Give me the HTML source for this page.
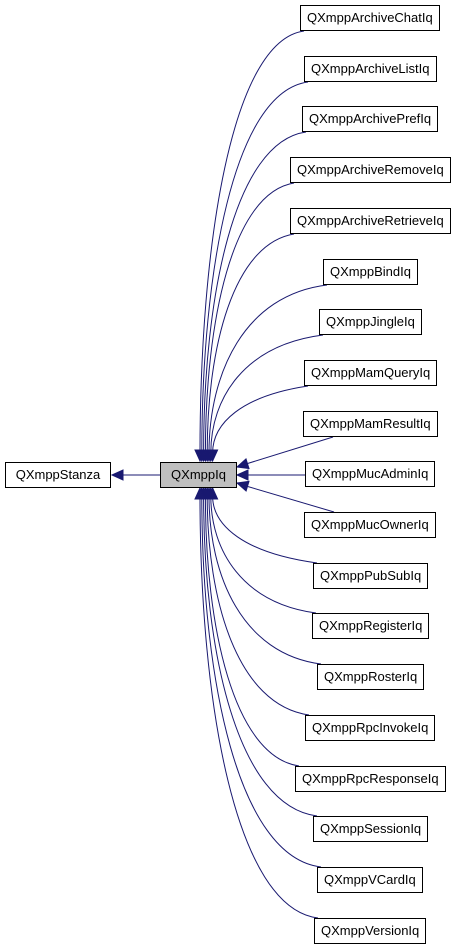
<!DOCTYPE html>
<html><head><meta charset="utf-8"><style>
body{margin:0;background:#fff;width:461px;height:949px;overflow:hidden;position:relative;font-family:"Liberation Sans",sans-serif;font-size:13px}
.b{position:absolute;height:24px;line-height:24px;border:1px solid #000;background:#fff;text-align:center;box-sizing:content-box;white-space:nowrap;padding:0 6px}
svg{position:absolute;left:0;top:0}
</style></head><body>
<svg id="s" width="461" height="949"></svg>
<div class="b" style="left:5px;top:462px;width:92px">QXmppStanza</div>
<div class="b" style="left:160px;top:462px;width:63px;background:#bfbfbf">QXmppIq</div>
<div id="r"></div>
<script>
var names=["QXmppArchiveChatIq","QXmppArchiveListIq","QXmppArchivePrefIq","QXmppArchiveRemoveIq","QXmppArchiveRetrieveIq","QXmppBindIq","QXmppJingleIq","QXmppMamQueryIq","QXmppMamResultIq","QXmppMucAdminIq","QXmppMucOwnerIq","QXmppPubSubIq","QXmppRegisterIq","QXmppRosterIq","QXmppRpcInvokeIq","QXmppRpcResponseIq","QXmppSessionIq","QXmppVCardIq","QXmppVersionIq"];
var r=document.getElementById('r'),s=document.getElementById('s'),svg='';
var C='#191970';
function arrow(x2,y2,x3,y3){var dx=x3-x2,dy=y3-y2,l=Math.hypot(dx,dy);dx/=l;dy/=l;var L=11,W=5;
var bx=x3-dx*L,by=y3-dy*L;return '<polygon points="'+x3+','+y3+' '+(bx-dy*W)+','+(by+dx*W)+' '+(bx+dy*W)+','+(by-dx*W)+'" fill="'+C+'" stroke="'+C+'"/>';}
svg+='<line x1="160" y1="475" x2="122" y2="475" stroke="'+C+'"/>'+arrow(160,475,112,475);
names.forEach(function(n,i){
 var d=document.createElement('div');d.className='b';d.textContent=n;r.appendChild(d);
 var w=d.offsetWidth;var top=Math.round(5+50.7*i);var xl=Math.round(370-w/2);
 d.style.left=xl+'px';d.style.top=top+'px';
 if(i<8){var sx=xl+4,sy=top+26;var ex=200+i*1.8,ey=461;
  var p1x=sx-(sx-ex)*0.7,p1y=sy+10,p2x=ex,p2y=ey-(ey-sy)*0.5;
  svg+='<path d="M'+sx+','+sy+' C'+p1x+','+p1y+' '+p2x+','+p2y+' '+ex+','+(ey-8)+'" fill="none" stroke="'+C+'"/>'+arrow(p2x,p2y,ex,ey);}
 else if(i>10){var sx=xl+4,sy=top;var ex=200+(18-i)*1.8,ey=488;
  var p1x=sx-(sx-ex)*0.7,p1y=sy-10,p2x=ex,p2y=ey+(sy-ey)*0.5;
  svg+='<path d="M'+sx+','+sy+' C'+p1x+','+p1y+' '+p2x+','+p2y+' '+ex+','+(ey+8)+'" fill="none" stroke="'+C+'"/>'+arrow(p2x,p2y,ex,ey);}
 else if(i==9){svg+='<line x1="'+xl+'" y1="475" x2="246" y2="475" stroke="'+C+'"/>'+arrow(xl,475,237,475);}
 else if(i==8){svg+='<line x1="'+(xl+30)+'" y1="'+(top+26)+'" x2="246" y2="464" stroke="'+C+'"/>'+arrow(xl+30,top+26,237,467);}
 else {svg+='<line x1="'+(xl+30)+'" y1="'+top+'" x2="246" y2="486" stroke="'+C+'"/>'+arrow(xl+30,top,237,483);}
});
s.innerHTML=svg;
</script>
</body></html>
